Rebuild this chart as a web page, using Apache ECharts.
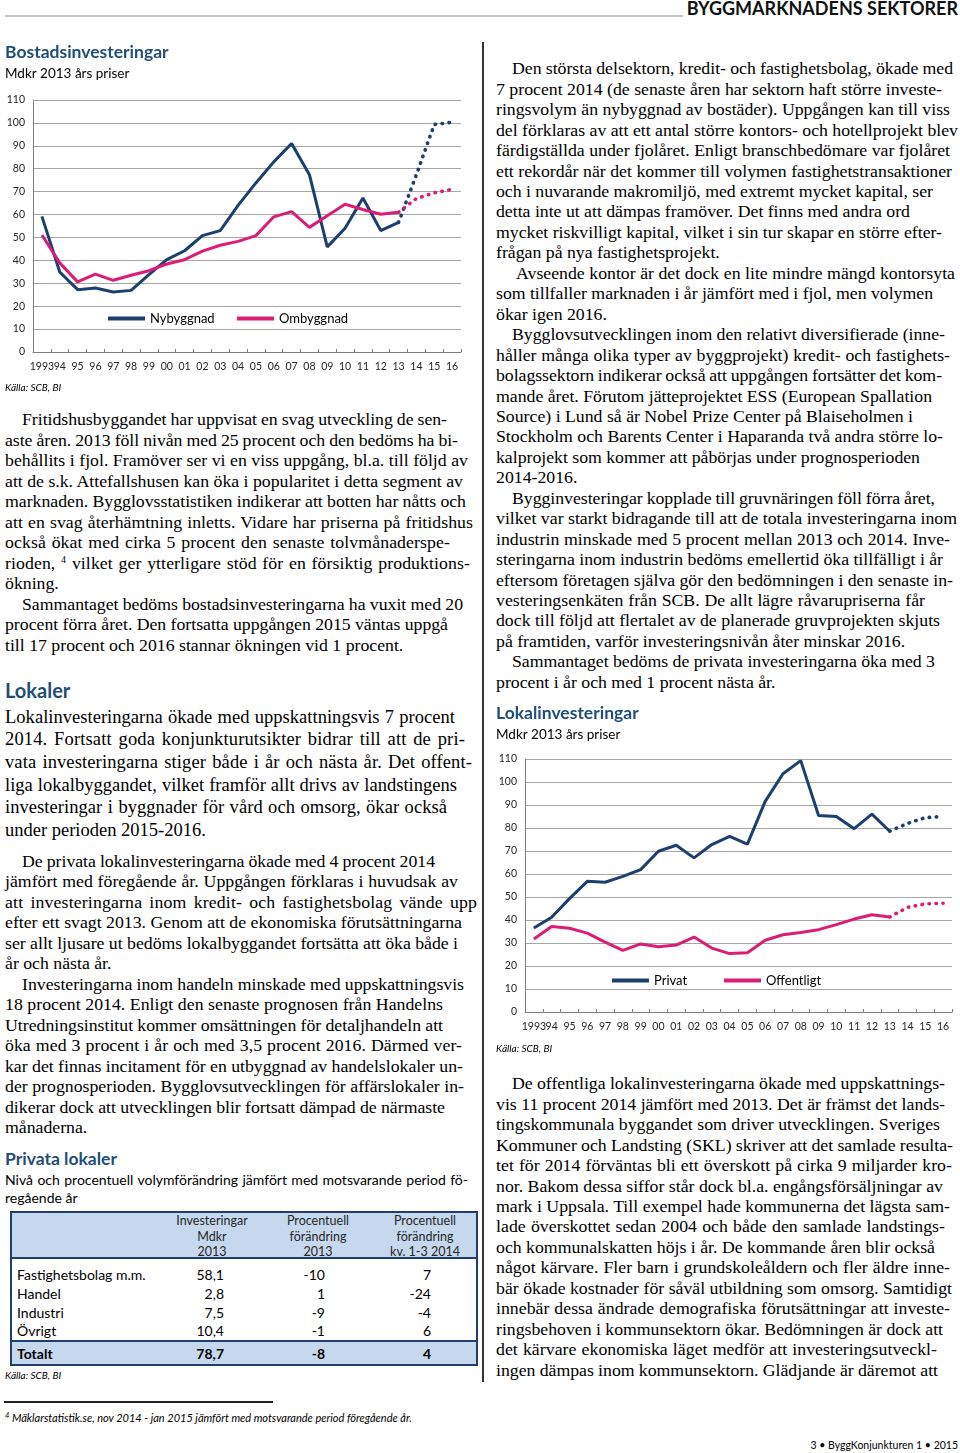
<!DOCTYPE html>
<html><head><meta charset="utf-8">
<script src="https://cdn.jsdelivr.net/npm/echarts@6/dist/echarts.min.js"></script>
<style>
html,body{margin:0;padding:0;background:#fff;}
body{width:960px;height:1453px;position:relative;overflow:hidden;}
.ln{position:absolute;white-space:nowrap;font-family:'Liberation Serif','Times New Roman',serif;font-size:17.75px;line-height:20px;color:#000;}
.ln.big{font-size:18.5px;}
.ln sup{font-size:10px;vertical-align:6px;line-height:0;}
.sans{position:absolute;white-space:nowrap;font-family:Lato,'Noto Sans',sans-serif;color:#000;}
.h{font-weight:bold;color:#1F4E79;}
.chart{position:absolute;}
</style></head><body>
<div class="sans" style="right:2px;top:-2px;font-size:18px;line-height:20px;font-weight:bold;color:#111;">BYGGMARKNADENS SEKTORER</div>
<div style="position:absolute;left:5px;top:15px;width:678px;height:2px;background:#c4c4c4;"></div>
<div style="position:absolute;left:482px;top:42px;width:2px;height:1340px;background:#333;"></div>

<div id="c1" class="chart" style="left:0;top:40px;width:480px;height:360px;"></div>
<div id="c2" class="chart" style="left:490px;top:700px;width:470px;height:360px;"></div>

<div class="sans h" style="left:5px;top:677px;font-size:20px;line-height:26px;">Lokaler</div>
<div class="sans h" style="left:5px;top:1148px;font-size:17.5px;line-height:22px;">Privata lokaler</div>
<div id="tsub1" class="sans" style="left:5px;top:1171px;font-size:14px;line-height:18px;">Nivå och procentuell volymförändring jämfört med motsvarande period fö-</div>
<div class="sans" style="left:5px;top:1189px;font-size:14px;line-height:18px;">regående år</div>
<div id="table"></div>
<div class="sans" style="left:5px;top:1368px;font-size:10px;line-height:14px;font-style:italic;">Källa: SCB, BI</div>

<div style="position:absolute;left:4px;top:1401px;width:269px;height:1.5px;background:#222;"></div>
<div class="sans" style="left:5px;top:1410px;font-size:11px;line-height:16px;font-style:italic;"><sup style="font-size:7.5px;vertical-align:4px;line-height:0;">4</sup> Mäklarstatistik.se, nov 2014 - jan 2015 jämfört med motsvarande period föregående år.</div>
<div class="sans" style="right:2px;top:1437px;font-size:10.5px;line-height:16px;">3 • ByggKonjunkturen 1 • 2015</div>

<script>
// ---------- chart data ----------
const years = ['1993','94','95','96','97','98','99','00','01','02','03','04','05','06','07','08','09','10','11','12','13','14','15','16'];
const nybyggnad = [59.2,34.9,27.2,27.9,26.2,26.9,33.8,40.3,44.2,50.8,53.0,64.0,73.8,83.0,91.0,77.4,45.9,54.0,67.2,53.0,56.6];
const nybyggnadPrognos = [56.6,77.4,99.3,100.3];
const ombyggnad = [51.1,38.9,30.6,34.0,31.3,33.5,35.5,38.4,40.3,44.0,46.6,48.3,50.8,59.0,61.3,54.4,59.5,64.5,62.2,60.1,61.0];
const ombyggnadPrognos = [61.0,67.0,69.5,71.0];
const privat = [36.5,41.2,49.3,56.8,56.4,59.0,61.9,69.9,72.5,67.0,72.8,76.4,73.0,91.6,103.6,109.3,85.4,85.0,79.7,86.0,78.6];
const privatPrognos = [78.6,82.0,84.5,85.0];
const offentligt = [31.7,37.2,36.4,34.3,30.4,26.8,29.6,28.4,29.1,32.6,27.8,25.4,25.8,31.2,33.6,34.6,35.8,38.0,40.4,42.3,41.3];
const offentligtPrognos = [41.3,45.5,47.0,47.3];

// ---------- table data ----------
const tableHeaders = [['Investeringar','Mdkr','2013'],['Procentuell','förändring','2013'],['Procentuell','förändring','kv. 1-3 2014']];
const tableRows = ['Fastighetsbolag m.m.','Handel','Industri','Övrigt'];
const invest2013 = [58.1,2.8,7.5,10.4];
const change2013 = [-10,1,-9,-1];
const change2014 = [7,-24,-4,6];
const totalRow = ['Totalt',78.7,-8,4];

const BLUE = '#1C3F6E', PINK = '#DA1E76';

function pad(arr){ return years.map((_,i)=> i<arr.length ? arr[i] : '-'); }
function padF(arr){ const s = years.length-arr.length; return years.map((_,i)=> i>=s ? arr[i-s] : '-'); }

function lineChart(dom, o){
  const ch = echarts.init(dom, null, {renderer:'canvas'});
  const solid = (name, d, c) => ({name, type:'line', data:pad(d), symbol:'none', lineStyle:{width:3,color:c}, itemStyle:{color:c}, z:3});
  const dotted = (name, d, c) => ({name, type:'line', data:padF(d), symbol:'none', lineStyle:{width:3.6,color:c,type:[0.5,6.5],cap:'round'}, itemStyle:{color:c}, z:3});
  const lg = (name,left) => ({data:[name], left, top:o.ly, padding:0, icon:'rect', itemWidth:37, itemHeight:4, itemGap:0,
      textStyle:{fontSize:13,color:'#000',fontFamily:'Lato'}});
  ch.setOption({
    animation:false,
    textStyle:{fontFamily:'Lato'},
    title:[
      {text:o.title, left:o.tx, top:o.ty, padding:0, textStyle:{fontSize:17.5,lineHeight:19,fontWeight:'bold',color:'#1F4E79',fontFamily:'Lato'}},
      {text:o.sub, left:o.tx, top:o.ty+23, padding:0, textStyle:{fontSize:13.5,lineHeight:16,fontWeight:'normal',color:'#000',fontFamily:'Lato'}}
    ],
    legend:[lg(o.names[0],o.l1), lg(o.names[1],o.l2)],
    grid:{left:o.gl, right:o.gr, top:o.gt, bottom:o.gb},
    xAxis:{type:'category', data:years, boundaryGap:true,
      axisLine:{lineStyle:{color:'#7f7f7f',width:1}},
      axisTick:{show:true, inside:true, length:3, lineStyle:{color:'#7f7f7f'}},
      axisLabel:{interval:0, fontSize:10.5, color:'#262626', margin:9, fontFamily:'Lato'}},
    yAxis:{type:'value', min:0, max:110, interval:10,
      axisLine:{show:true, lineStyle:{color:'#7f7f7f'}}, axisTick:{show:false},
      axisLabel:{fontSize:10.5, color:'#262626', margin:8, fontFamily:'Lato'},
      splitLine:{lineStyle:{color:'#a6a6a6',width:1}}},
    graphic:[{type:'text', left:o.tx, top:o.sy, style:{text:'Källa: SCB, BI', font:'italic 10px Lato', fill:'#000'}}],
    series:[
      solid(o.names[0], o.s1, BLUE), dotted(o.names[0]+' prognos', o.s1p, BLUE),
      solid(o.names[1], o.s2, PINK), dotted(o.names[1]+' prognos', o.s2p, PINK)
    ]
  });
}

lineChart(document.getElementById('c1'), {
  title:'Bostadsinvesteringar', sub:'Mdkr 2013 års priser', tx:5, ty:3, sy:343,
  names:['Nybyggnad','Ombyggnad'], l1:108, l2:237, ly:272,
  gl:33, gr:19, gt:60, gb:48,
  s1:nybyggnad, s1p:nybyggnadPrognos, s2:ombyggnad, s2p:ombyggnadPrognos
});
lineChart(document.getElementById('c2'), {
  title:'Lokalinvesteringar', sub:'Mdkr 2013 års priser', tx:6, ty:4, sy:344,
  names:['Privat','Offentligt'], l1:122, l2:234, ly:274,
  gl:35, gr:8, gt:59, gb:48,
  s1:privat, s1p:privatPrognos, s2:offentligt, s2p:offentligtPrognos
});

// ---------- table ----------
(function(){
  const t = document.getElementById('table');
  const add = (css, html) => { const d=document.createElement('div'); d.style.cssText=css; if(html!==undefined) d.innerHTML=html; t.appendChild(d); return d; };
  add('position:absolute;left:10px;top:1211px;width:468px;height:47px;background:#C6D8EE;');
  add('position:absolute;left:10px;top:1341px;width:468px;height:25px;background:#C6D8EE;');
  add('position:absolute;left:10px;top:1211px;width:468px;height:155px;border:2px solid #1F3F6E;box-sizing:border-box;');
  add('position:absolute;left:10px;top:1257px;width:468px;height:2px;background:#1F3F6E;');
  add('position:absolute;left:10px;top:1340px;width:468px;height:2px;background:#1F3F6E;');
  const centers = [212,318,425];
  const lineY = [1221,1236.5,1251.5];
  tableHeaders.forEach((h,ci)=>h.forEach((s,li)=>{
    add(`position:absolute;left:${centers[ci]-70}px;width:140px;top:${lineY[li]-8}px;line-height:16px;text-align:center;font:12.5px Lato,sans-serif;color:#262626;white-space:nowrap;`, s);
  }));
  const rights = [224,325,431];
  const fmt = v => v.toFixed(1).replace('.',',');
  const rowY = [1275,1294,1312.5,1331];
  const cell = (x, y, s, bold, right) => add(`position:absolute;${right?`right:${960-x}px`:`left:${x}px`};top:${y-9}px;line-height:18px;font:${bold?'bold ':''}14px Lato,sans-serif;color:#000;white-space:nowrap;`, s);
  tableRows.forEach((name,i)=>{
    cell(17,rowY[i],name,false,false);
    cell(rights[0],rowY[i],fmt(invest2013[i]),false,true);
    cell(rights[1],rowY[i],String(change2013[i]),false,true);
    cell(rights[2],rowY[i],String(change2014[i]),false,true);
  });
  cell(17,1353.5,totalRow[0],true,false);
  cell(rights[0],1353.5,fmt(totalRow[1]),true,true);
  cell(rights[1],1353.5,String(totalRow[2]),true,true);
  cell(rights[2],1353.5,String(totalRow[3]),true,true);
})();

// ---------- body text ----------
function block(y0, step, x, rows, cls){
  rows.forEach((r,i)=>{
    const d = document.createElement('div');
    d.className = 'ln' + (cls?(' '+cls):'');
    const x0 = x + r[0];
    d.style.left = x0+'px';
    d.style.top = (y0 + step*i - 10)+'px';
    d.innerHTML = r[2];
    document.body.appendChild(d);
    if (r[1]) {
      const w = d.getBoundingClientRect().width;
      const txt = d.textContent;
      const n = (txt.match(/ /g)||[]).length;
      const diff = r[1]-x0-w;
      const ls = (diff*0.35)/Math.max(1, txt.length-1);
      d.style.letterSpacing = ls+'px';
      const w2 = d.getBoundingClientRect().width;
      if (n) d.style.wordSpacing = ((r[1]-x0-w2)/n)+'px';
    }
  });
}
block(419, 20.5, 5, [
[17,447,'Fritidshusbyggandet har uppvisat en svag utveckling de sen-'],
[0,458,'aste åren. 2013 föll nivån med 25 procent och den bedöms ha bi-'],
[0,468,'behållits i fjol. Framöver ser vi en viss uppgång, bl.a. till följd av'],
[0,463,'att de s.k. Attefallshusen kan öka i popularitet i detta segment av'],
[0,466,'marknaden. Bygglovsstatistiken indikerar att botten har nåtts och'],
[0,473,'att en svag återhämtning inletts. Vidare har priserna på fritidshus'],
[0,450,'också ökat med cirka 5 procent den senaste tolvmånaderspe-'],
[0,470,'rioden, <sup>4</sup> vilket ger ytterligare stöd för en försiktig produktions-'],
[0,0,'ökning.'],
[17,463,'Sammantaget bedöms bostadsinvesteringarna ha vuxit med 20'],
[0,448,'procent förra året. Den fortsatta uppgången 2015 väntas uppgå'],
[0,0,'till 17 procent och 2016 stannar ökningen vid 1 procent.']
]);
block(716.7, 22.6, 5, [
[0,455,'Lokalinvesteringarna ökade med uppskattningsvis 7 procent'],
[0,465,'2014. Fortsatt goda konjunkturutsikter bidrar till att de pri-'],
[0,472,'vata investeringarna stiger både i år och nästa år. Det offent-'],
[0,457,'liga lokalbyggandet, vilket framför allt drivs av landstingens'],
[0,447,'investeringar i byggnader för vård och omsorg, ökar också'],
[0,0,'under perioden 2015-2016.']
], 'big');
block(860.5, 20.5, 5, [
[17,435,'De privata lokalinvesteringarna ökade med 4 procent 2014'],
[0,458,'jämfört med föregående år. Uppgången förklaras i huvudsak av'],
[0,477,'att investeringarna inom kredit- och fastighetsbolag vände upp'],
[0,462,'efter ett svagt 2013. Genom att de ekonomiska förutsättningarna'],
[0,458,'ser allt ljusare ut bedöms lokalbyggandet fortsätta att öka både i'],
[0,0,'år och nästa år.'],
[17,464,'Investeringarna inom handeln minskade med uppskattningsvis'],
[0,443,'18 procent 2014. Enligt den senaste prognosen från Handelns'],
[0,443,'Utredningsinstitut kommer omsättningen för detaljhandeln att'],
[0,462,'öka med 3 procent i år och med 3,5 procent 2016. Därmed ver-'],
[0,463,'kar det finnas incitament för en utbyggnad av handelslokaler un-'],
[0,464,'der prognosperioden. Bygglovsutvecklingen för affärslokaler in-'],
[0,445,'dikerar dock att utvecklingen blir fortsatt dämpad de närmaste'],
[0,0,'månaderna.']
]);
block(68.3, 20.45, 496, [
[16,953,'Den största delsektorn, kredit- och fastighetsbolag, ökade med'],
[0,942,'7 procent 2014 (de senaste åren har sektorn haft större investe-'],
[0,950,'ringsvolym än nybyggnad av bostäder). Uppgången kan till viss'],
[0,958,'del förklaras av att ett antal större kontors- och hotellprojekt blev'],
[0,950,'färdigställda under fjolåret. Enligt branschbedömare var fjolåret'],
[0,952,'ett rekordår när det kommer till volymen fastighetstransaktioner'],
[0,933,'och i nuvarande makromiljö, med extremt mycket kapital, ser'],
[0,910,'detta inte ut att dämpas framöver. Det finns med andra ord'],
[0,942,'mycket riskvilligt kapital, vilket i sin tur skapar en större efter-'],
[0,0,'frågan på nya fastighetsprojekt.'],
[20,955,'Avseende kontor är det dock en lite mindre mängd kontorsyta'],
[0,933,'som tillfaller marknaden i år jämfört med i fjol, men volymen'],
[0,0,'ökar igen 2016.'],
[16,945,'Bygglovsutvecklingen inom den relativt diversifierade (inne-'],
[0,950,'håller många olika typer av byggprojekt) kredit- och fastighets-'],
[0,942,'bolagssektorn indikerar också att uppgången fortsätter det kom-'],
[0,932,'mande året. Förutom jätteprojektet ESS (European Spallation'],
[0,913,'Source) i Lund så är Nobel Prize Center på Blaiseholmen i'],
[0,943,'Stockholm och Barents Center i Haparanda två andra större lo-'],
[0,920,'kalprojekt som kommer att påbörjas under prognosperioden'],
[0,0,'2014-2016.'],
[16,935,'Bygginvesteringar kopplade till gruvnäringen föll förra året,'],
[0,957,'vilket var starkt bidragande till att de totala investeringarna inom'],
[0,950,'industrin minskade med 5 procent mellan 2013 och 2014. Inve-'],
[0,943,'steringarna inom industrin bedöms emellertid öka tillfälligt i år'],
[0,953,'eftersom företagen själva gör den bedömningen i den senaste in-'],
[0,925,'vesteringsenkäten från SCB. De allt lägre råvarupriserna får'],
[0,940,'dock till följd att flertalet av de planerade gruvprojekten skjuts'],
[0,0,'på framtiden, varför investeringsnivån åter minskar 2016.'],
[16,935,'Sammantaget bedöms de privata investeringarna öka med 3'],
[0,0,'procent i år och med 1 procent nästa år.']
]);
block(1083.3, 20.45, 496, [
[16,945,'De offentliga lokalinvesteringarna ökade med uppskattnings-'],
[0,945,'vis 11 procent 2014 jämfört med 2013. Det är främst det lands-'],
[0,940,'tingskommunala byggandet som driver utvecklingen. Sveriges'],
[0,953,'Kommuner och Landsting (SKL) skriver att det samlade resulta-'],
[0,952,'tet för 2014 förväntas bli ett överskott på cirka 9 miljarder kro-'],
[0,943,'nor. Bakom dessa siffor står dock bl.a. engångsförsäljningar av'],
[0,950,'mark i Uppsala. Till exempel hade kommunerna det lägsta sam-'],
[0,945,'lade överskottet sedan 2004 och både den samlade landstings-'],
[0,935,'och kommunalskatten höjs i år. De kommande åren blir också'],
[0,950,'något kärvare. Fler barn i grundskoleåldern och fler äldre inne-'],
[0,952,'bär ökade kostnader för såväl utbildning som omsorg. Samtidigt'],
[0,950,'innebär dessa ändrade demografiska förutsättningar att investe-'],
[0,943,'ringsbehoven i kommunsektorn ökar. Bedömningen är dock att'],
[0,937,'det kärvare ekonomiska läget medför att investeringsutveckl-'],
[0,938,'ingen dämpas inom kommunsektorn. Glädjande är däremot att']
]);
// justify table subtitle first line
(function(){
  const d = document.getElementById('tsub1');
  const w = d.getBoundingClientRect().width;
  const n = (d.textContent.match(/ /g)||[]).length;
  d.style.wordSpacing = ((468-5-w)/n)+'px';
})();
</script>
</body></html>
